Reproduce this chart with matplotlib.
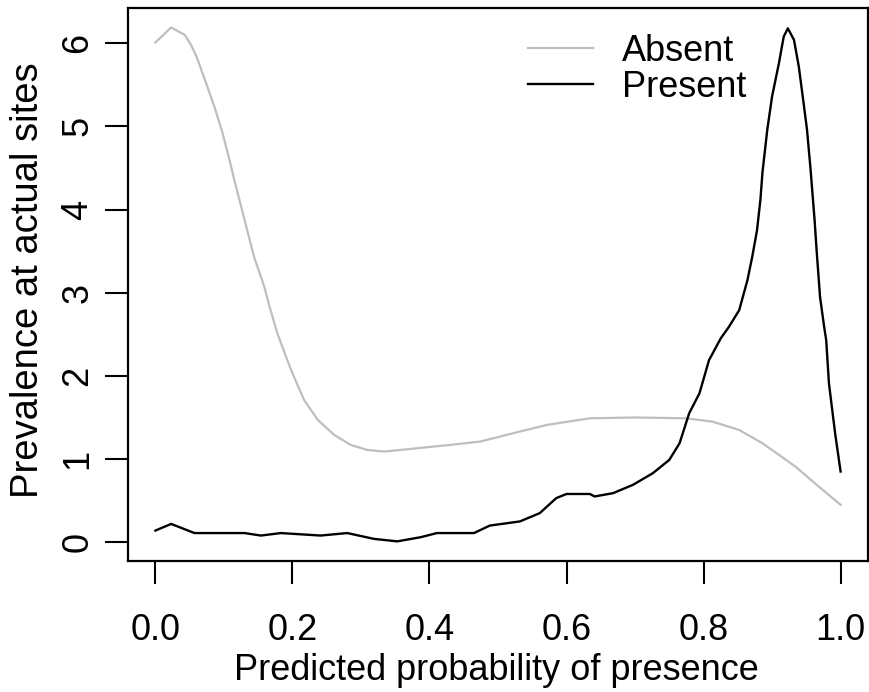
import matplotlib
matplotlib.use("Agg")
import matplotlib.pyplot as plt

plt.rcParams['font.family'] = ['Liberation Sans', 'DejaVu Sans']

# Absent (grey) density curve
absent_x = [0.0, 0.023, 0.043, 0.052, 0.06, 0.074, 0.086, 0.098, 0.108, 0.115, 0.13,
            0.144, 0.159, 0.166, 0.178, 0.198, 0.217, 0.237, 0.261, 0.285, 0.309,
            0.334, 0.382, 0.43, 0.474, 0.522, 0.571, 0.634, 0.70, 0.774, 0.813,
            0.852, 0.886, 0.934, 0.968, 1.0]
absent_y = [6.01, 6.19, 6.10, 5.98, 5.84, 5.52, 5.24, 4.92, 4.60, 4.36, 3.88,
            3.43, 3.07, 2.85, 2.51, 2.07, 1.71, 1.47, 1.29, 1.17, 1.11,
            1.09, 1.13, 1.17, 1.21, 1.31, 1.41, 1.49, 1.50, 1.49, 1.45,
            1.35, 1.19, 0.91, 0.67, 0.45]

# Present (black) density curve
present_x = [0.0, 0.023, 0.057, 0.13, 0.154, 0.183, 0.241, 0.28, 0.319, 0.353,
             0.387, 0.411, 0.465, 0.488, 0.532, 0.561, 0.585, 0.6, 0.634, 0.641,
             0.668, 0.697, 0.726, 0.75, 0.765, 0.779, 0.794, 0.808, 0.825, 0.837,
             0.852, 0.864, 0.871, 0.878, 0.883, 0.886, 0.893, 0.9, 0.91, 0.917,
             0.923, 0.932, 0.939, 0.946, 0.951, 0.956, 0.962, 0.965, 0.97, 0.976,
             0.979, 0.983, 0.992, 1.0]
present_y = [0.14, 0.22, 0.11, 0.11, 0.08, 0.11, 0.08, 0.11, 0.04, 0.01,
             0.06, 0.11, 0.11, 0.20, 0.25, 0.35, 0.53, 0.58, 0.58, 0.55,
             0.59, 0.69, 0.83, 0.99, 1.19, 1.55, 1.79, 2.19, 2.45, 2.59,
             2.79, 3.15, 3.43, 3.75, 4.12, 4.45, 4.96, 5.36, 5.76, 6.08,
             6.18, 6.04, 5.72, 5.28, 4.96, 4.50, 3.88, 3.51, 2.95, 2.59,
             2.43, 1.91, 1.31, 0.85]

series_labels = ["Absent", "Present"]
x_ticks = [0.0, 0.2, 0.4, 0.6, 0.8, 1.0]
x_tick_labels = ["0.0", "0.2", "0.4", "0.6", "0.8", "1.0"]
y_ticks = [0, 1, 2, 3, 4, 5, 6]
y_tick_labels = ["0", "1", "2", "3", "4", "5", "6"]

W, H = 869, 692
fig = plt.figure(figsize=(W / 100, H / 100), dpi=100)
ax = fig.add_axes([128 / W, 1 - 561 / H, (868 - 128) / W, (561 - 8) / H])

l1, = ax.plot(absent_x, absent_y, color='#BEBEBE', lw=1.6, solid_joinstyle='round')
l2, = ax.plot(present_x, present_y, color='black', lw=1.7, solid_joinstyle='round')

ax.set_xlim(-0.04, 1.04)
ax.set_ylim(-0.226, 6.424)

fs = 26
ax.set_xticks(x_ticks)
ax.set_xticklabels(x_tick_labels, fontsize=fs)
ax.set_yticks(y_ticks)
ax.set_yticklabels(y_tick_labels, fontsize=fs, rotation=90, va='center')
ax.tick_params(axis='both', direction='out', length=16.6, width=1.5, color='black')
ax.tick_params(axis='x', pad=21)
ax.tick_params(axis='y', pad=7)
for s in ax.spines.values():
    s.set_linewidth(1.6)

fig.text(496.5 / W, 1 - 671 / H, "Predicted probability of presence",
         fontsize=fs, ha='center', va='center')
fig.text(28 / W, 1 - 280 / H, "Prevalence at actual sites",
         fontsize=27.5, ha='center', va='center', rotation=90)

ax.legend([l1, l2], series_labels, loc='upper left',
          bbox_to_anchor=(528 / W, 1 - 34 / H), bbox_transform=fig.transFigure,
          frameon=False, fontsize=fs, handlelength=1.8, handletextpad=0.8,
          labelspacing=0.03, borderpad=0, borderaxespad=0)

fig.savefig("out.png", dpi=100)
